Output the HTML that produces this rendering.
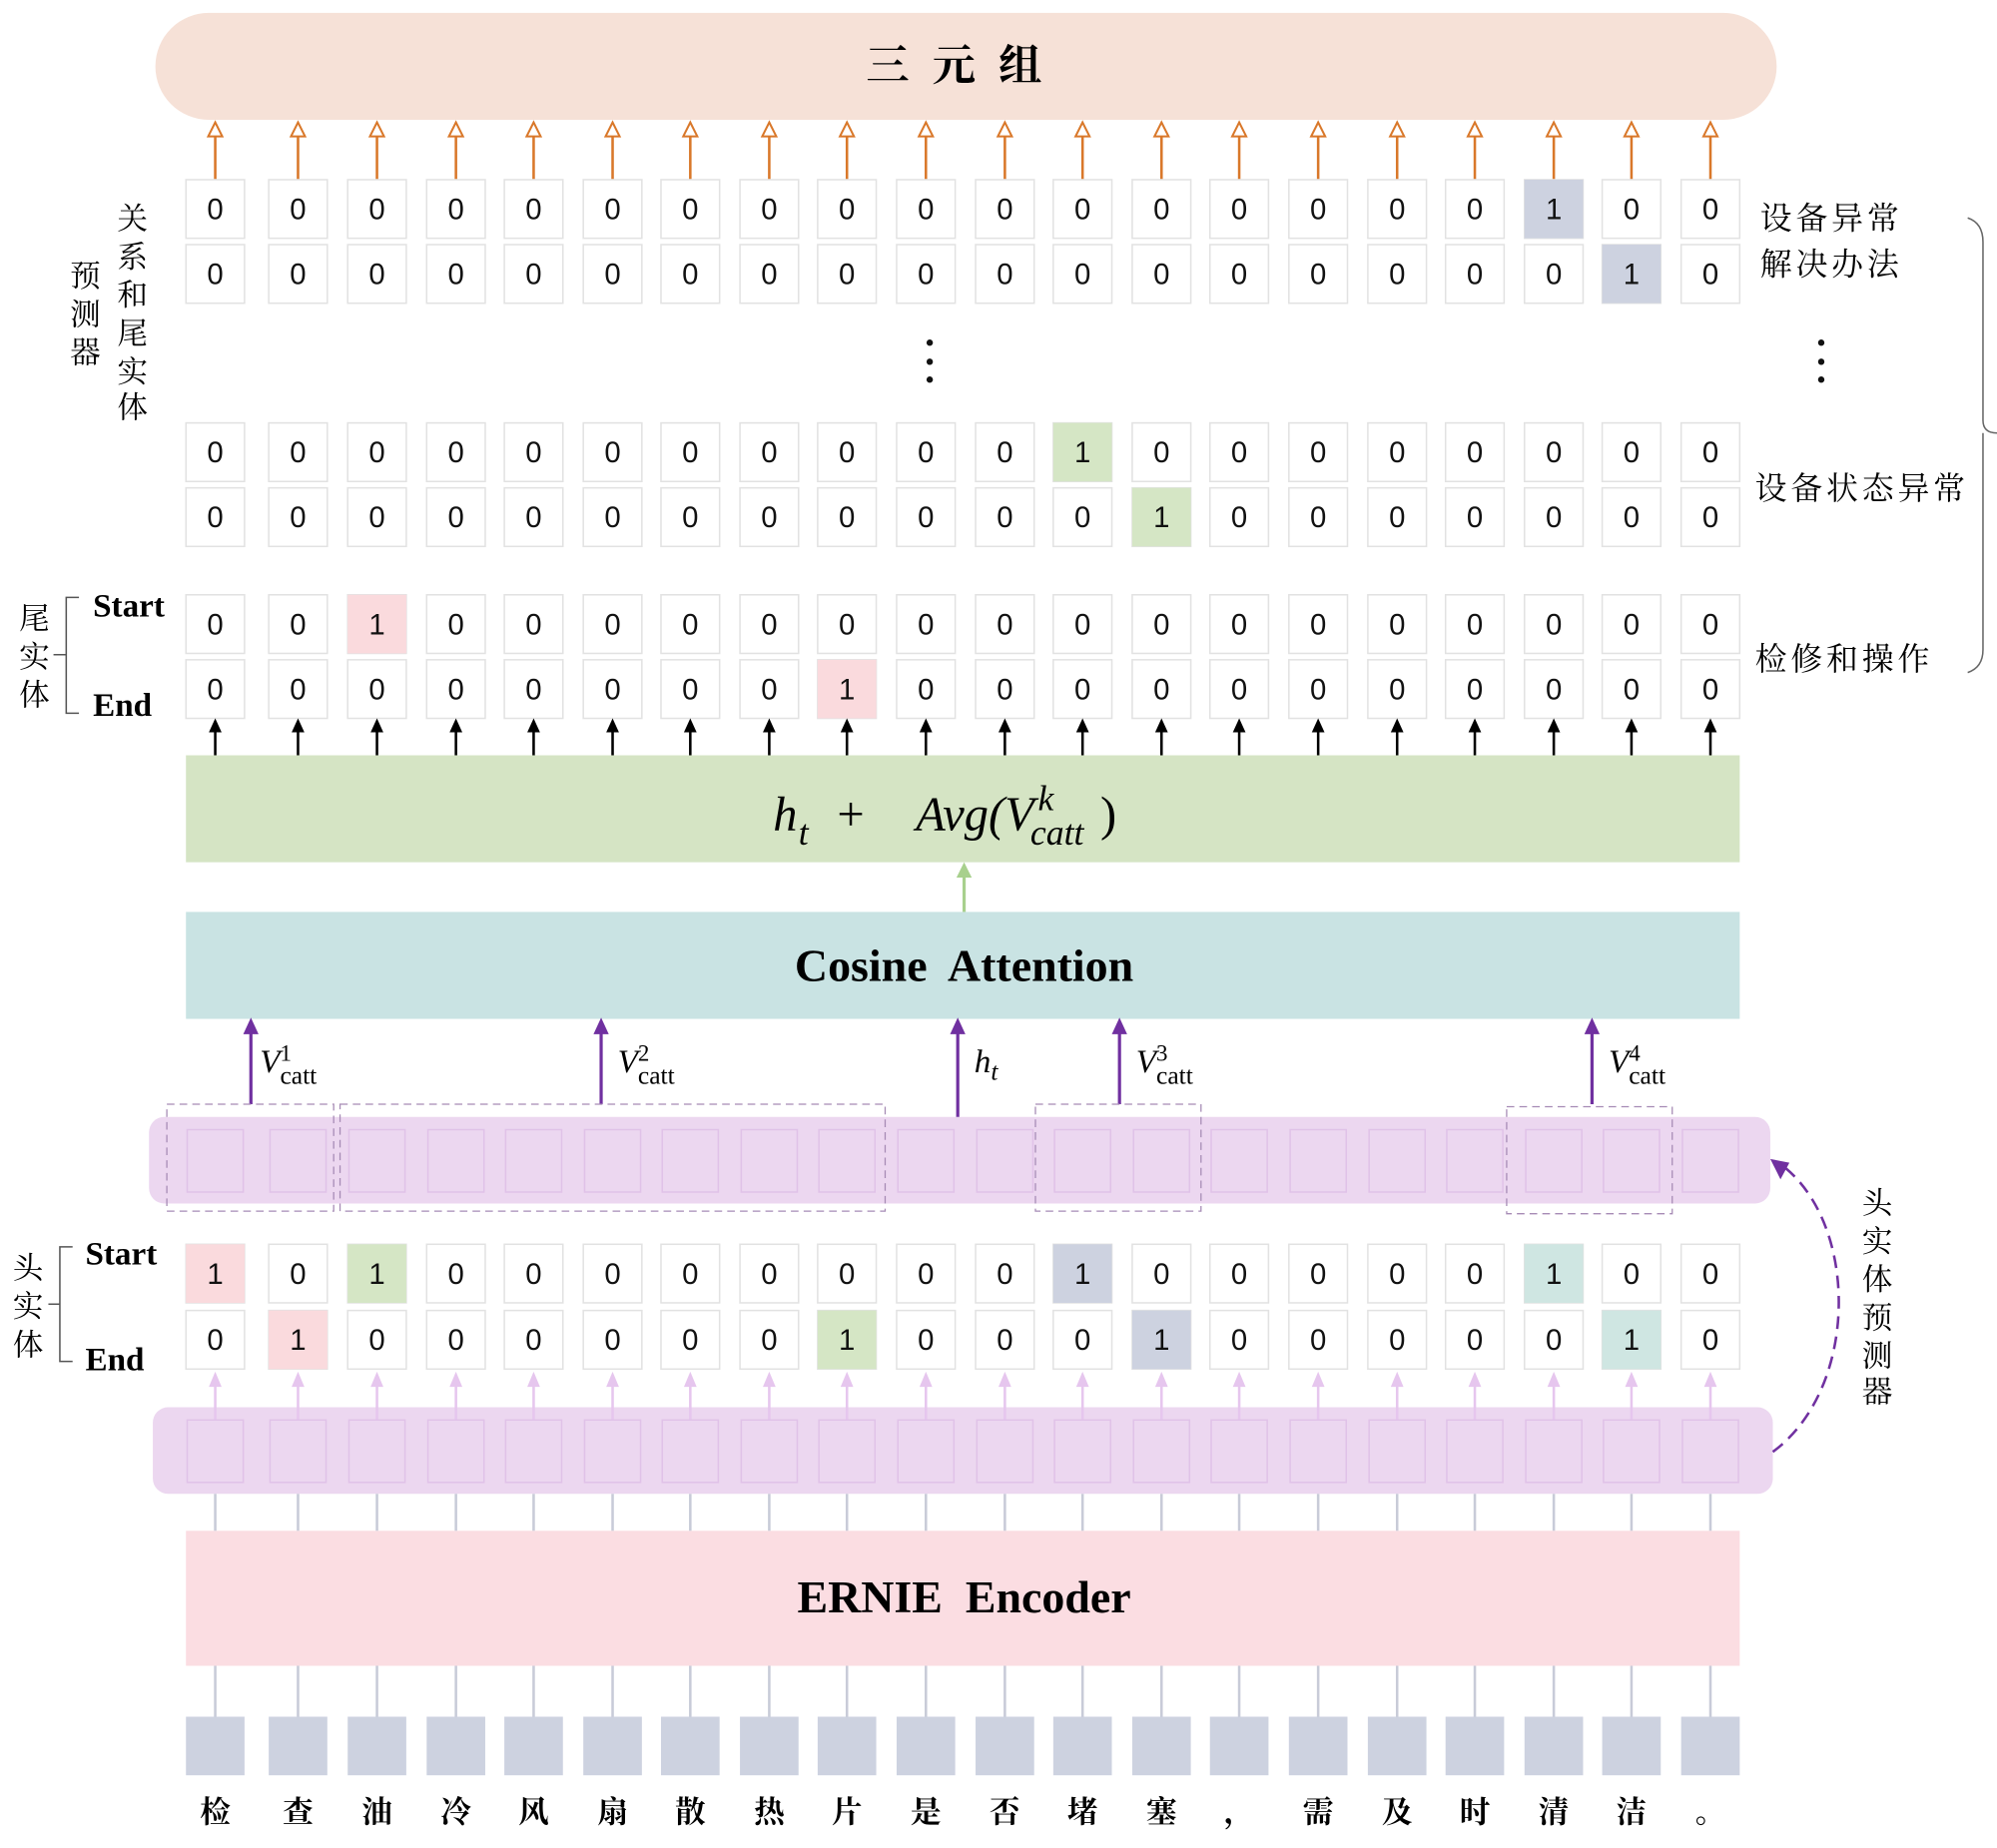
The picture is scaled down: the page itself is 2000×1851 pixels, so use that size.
<!DOCTYPE html>
<html><head><meta charset="utf-8"><style>
html,body{margin:0;padding:0;background:#fff;}
svg{display:block;}
.cjk{font-family:"Liberation Serif","Noto Serif CJK SC",serif;}
.pre{white-space:pre;}
</style></head><body>
<svg width="2000" height="1851" viewBox="0 0 1568 1451" xmlns="http://www.w3.org/2000/svg">
<defs>
<g id="col">
  <line x1="0" y1="141" x2="0" y2="106" stroke="#d9782a" stroke-width="2"/>
  <polygon points="-5.5,107 0,96 5.5,107" fill="#fff" stroke="#d9782a" stroke-width="1.6"/>
  <g fill="#fff" stroke="#e2e2e2" stroke-width="1.2">
    <rect x="-23" y="141" width="46" height="46"/>
    <rect x="-23" y="192" width="46" height="46"/>
    <rect x="-23" y="332" width="46" height="46"/>
    <rect x="-23" y="383" width="46" height="46"/>
    <rect x="-23" y="467" width="46" height="46"/>
    <rect x="-23" y="518" width="46" height="46"/>
    <rect x="-23" y="977" width="46" height="46"/>
    <rect x="-23" y="1029" width="46" height="46"/>
  </g>
  <line x1="0" y1="593" x2="0" y2="572" stroke="#000" stroke-width="2"/>
  <polygon points="-5,575 0,564 5,575" fill="#000"/>
  <rect x="-22" y="887" width="44" height="49" fill="none" stroke="#e0c2e8" stroke-width="1.2"/>
  <line x1="0" y1="1115" x2="0" y2="1088" stroke="#e6c6ee" stroke-width="2"/>
  <polygon points="-5,1089 0,1077 5,1089" fill="#e6c6ee"/>
  <rect x="-22" y="1115" width="44" height="49" fill="none" stroke="#e0c2e8" stroke-width="1.2"/>
  <line x1="0" y1="1173" x2="0" y2="1202" stroke="#c8cbd8" stroke-width="2"/>
  <line x1="0" y1="1308" x2="0" y2="1348" stroke="#c8cbd8" stroke-width="2"/>
  <rect x="-23" y="1348" width="46" height="46" fill="#cdd2e0"/>
</g>
</defs>

<rect x="122" y="10" width="1273" height="84" rx="42" fill="#f6e1d7"/>
<text x="758" y="63" text-anchor="middle" class="cjk" font-size="34" font-weight="bold" letter-spacing="18">三元组</text>

<rect x="146" y="593" width="1220" height="84" fill="#d5e4c4"/>
<rect x="146" y="716" width="1220" height="84" fill="#c9e3e3"/>
<rect x="117" y="877" width="1273" height="68" rx="12" fill="#ecd7f0"/>
<rect x="120" y="1105" width="1272" height="68" rx="12" fill="#ecd7f0"/>
<rect x="146" y="1202" width="1220" height="106" fill="#fbdde2"/>

<use href="#col" x="169"/><use href="#col" x="234"/><use href="#col" x="296"/><use href="#col" x="358"/><use href="#col" x="419"/>
<use href="#col" x="481"/><use href="#col" x="542"/><use href="#col" x="604"/><use href="#col" x="665"/><use href="#col" x="727"/>
<use href="#col" x="789"/><use href="#col" x="850"/><use href="#col" x="912"/><use href="#col" x="973"/><use href="#col" x="1035"/>
<use href="#col" x="1097"/><use href="#col" x="1158"/><use href="#col" x="1220"/><use href="#col" x="1281"/><use href="#col" x="1343"/>

<rect x="1197" y="141" width="46" height="46" fill="#cdd2e0"/>
<rect x="1258" y="192" width="46" height="46" fill="#cdd2e0"/>
<rect x="827" y="332" width="46" height="46" fill="#d5e6c5"/>
<rect x="889" y="383" width="46" height="46" fill="#d5e6c5"/>
<rect x="273" y="467" width="46" height="46" fill="#fadadd"/>
<rect x="642" y="518" width="46" height="46" fill="#fadadd"/>
<rect x="146" y="977" width="46" height="46" fill="#fadadd"/>
<rect x="273" y="977" width="46" height="46" fill="#d5e6c5"/>
<rect x="827" y="977" width="46" height="46" fill="#cdd2e0"/>
<rect x="1197" y="977" width="46" height="46" fill="#cfe6e2"/>
<rect x="211" y="1029" width="46" height="46" fill="#fadadd"/>
<rect x="642" y="1029" width="46" height="46" fill="#d5e6c5"/>
<rect x="889" y="1029" width="46" height="46" fill="#cdd2e0"/>
<rect x="1258" y="1029" width="46" height="46" fill="#cfe6e2"/>

<g font-family="'Liberation Sans',sans-serif" font-size="23" text-anchor="middle" fill="#111">
<text x="169 234 296 358 419 481 542 604 665 727 789 850 912 973 1035 1097 1158 1220 1281 1343" y="172">00000000000000000100</text>
<text x="169 234 296 358 419 481 542 604 665 727 789 850 912 973 1035 1097 1158 1220 1281 1343" y="223">00000000000000000010</text>
<text x="169 234 296 358 419 481 542 604 665 727 789 850 912 973 1035 1097 1158 1220 1281 1343" y="363">00000000000100000000</text>
<text x="169 234 296 358 419 481 542 604 665 727 789 850 912 973 1035 1097 1158 1220 1281 1343" y="414">00000000000010000000</text>
<text x="169 234 296 358 419 481 542 604 665 727 789 850 912 973 1035 1097 1158 1220 1281 1343" y="498">00100000000000000000</text>
<text x="169 234 296 358 419 481 542 604 665 727 789 850 912 973 1035 1097 1158 1220 1281 1343" y="549">00000000100000000000</text>
<text x="169 234 296 358 419 481 542 604 665 727 789 850 912 973 1035 1097 1158 1220 1281 1343" y="1008">10100000000100000100</text>
<text x="169 234 296 358 419 481 542 604 665 727 789 850 912 973 1035 1097 1158 1220 1281 1343" y="1060">01000000100010000010</text>
</g>

<g fill="#111"><circle cx="730" cy="269" r="2.5"/><circle cx="730" cy="284" r="2.5"/><circle cx="730" cy="298" r="2.5"/>
<circle cx="1430" cy="269" r="2.5"/><circle cx="1430" cy="284" r="2.5"/><circle cx="1430" cy="298" r="2.5"/></g>

<!-- formula -->
<g font-family="'Liberation Serif',serif" font-style="italic">
<text x="607" y="652" font-size="38">h</text>
<text x="627" y="663" font-size="28">t</text>
<text x="668" y="652" font-size="38" text-anchor="middle" font-style="normal">+</text>
<text x="812" y="652" font-size="38" text-anchor="end">Avg(V</text>
<text x="815" y="636" font-size="28">k</text>
<text x="809" y="663" font-size="28">catt</text>
<text x="864" y="652" font-size="38" font-style="normal">)</text>
</g>
<line x1="757" y1="716" x2="757" y2="688" stroke="#a8d08d" stroke-width="2.5"/>
<polygon points="751,689 757,677 763,689" fill="#a8d08d"/>

<text x="757" y="770" text-anchor="middle" class="pre" font-family="'Liberation Serif',serif" font-weight="bold" font-size="36">Cosine  Attention</text>

<g stroke="#7030a0" stroke-width="2.5">
<line x1="197" y1="867" x2="197" y2="810"/><line x1="472" y1="867" x2="472" y2="810"/>
<line x1="752" y1="877" x2="752" y2="810"/><line x1="879" y1="867" x2="879" y2="810"/>
<line x1="1250" y1="867" x2="1250" y2="810"/></g>
<g fill="#7030a0"><polygon points="191,812 197,799 203,812"/><polygon points="466,812 472,799 478,812"/>
<polygon points="746,812 752,799 758,812"/><polygon points="873,812 879,799 885,812"/><polygon points="1244,812 1250,799 1256,812"/></g>
<g font-family="'Liberation Serif',serif" font-size="26">
<text x="204" y="842"><tspan font-style="italic">V</tspan><tspan font-size="18" dy="-9">1</tspan><tspan font-size="20" dx="-9" dy="18">catt</tspan></text>
<text x="485" y="842"><tspan font-style="italic">V</tspan><tspan font-size="18" dy="-9">2</tspan><tspan font-size="20" dx="-9" dy="18">catt</tspan></text>
<text x="765" y="842" font-style="italic">h<tspan font-size="20" dy="6">t</tspan></text>
<text x="892" y="842"><tspan font-style="italic">V</tspan><tspan font-size="18" dy="-9">3</tspan><tspan font-size="20" dx="-9" dy="18">catt</tspan></text>
<text x="1263" y="842"><tspan font-style="italic">V</tspan><tspan font-size="18" dy="-9">4</tspan><tspan font-size="20" dx="-9" dy="18">catt</tspan></text>
</g>

<g fill="none" stroke="#a68bb5" stroke-width="1" stroke-dasharray="6,4">
<rect x="131" y="867" width="131" height="84"/><rect x="267" y="867" width="428" height="84"/>
<rect x="813" y="867" width="130" height="84"/><rect x="1183" y="869" width="130" height="84"/></g>

<path d="M1392,1140 C1460,1090 1460,960 1398,914" fill="none" stroke="#7030a0" stroke-width="2" stroke-dasharray="10,6"/>
<polygon points="1390,910 1405,913 1398,926" fill="#7030a0"/>

<text x="757" y="1266" text-anchor="middle" class="pre" font-family="'Liberation Serif',serif" font-weight="bold" font-size="36">ERNIE  Encoder</text>

<text x="169 234 296 358 419 481 542 604 665 727 789 850 912 973 1035 1097 1158 1220 1281 1343" y="1431" text-anchor="middle" class="cjk" font-size="24" font-weight="bold">检查油冷风扇散热片是否堵塞，需及时清洁。</text>

<g class="cjk" font-size="24" text-anchor="middle">
<text x="104" y="180">关</text><text x="104" y="210">系</text><text x="104" y="240">和</text><text x="104" y="270">尾</text><text x="104" y="300">实</text><text x="104" y="328">体</text>
<text x="67" y="225">预</text><text x="67" y="255">测</text><text x="67" y="285">器</text>
<text x="27" y="494">尾</text><text x="27" y="524">实</text><text x="27" y="554">体</text>
<text x="22" y="1004">头</text><text x="22" y="1034">实</text><text x="22" y="1064">体</text>
<text x="1474" y="953">头</text><text x="1474" y="983">实</text><text x="1474" y="1013">体</text><text x="1474" y="1043">预</text><text x="1474" y="1073">测</text><text x="1474" y="1101">器</text>
</g>
<g fill="none" stroke="#555" stroke-width="1.2">
<path d="M62,469 H52 V560 H62 M42,514 H52"/>
<path d="M57,979 H47 V1069 H57 M38,1024 H47"/>
</g>
<g font-family="'Liberation Serif',serif" font-weight="bold" font-size="26">
<text x="73" y="484">Start</text><text x="73" y="562">End</text>
<text x="67" y="993">Start</text><text x="67" y="1076">End</text>
</g>

<g class="cjk" font-size="25" letter-spacing="3">
<text x="1382" y="180">设备异常</text><text x="1382" y="216">解决办法</text>
<text x="1378" y="392">设备状态异常</text><text x="1378" y="526">检修和操作</text>
</g>
<path d="M1545,171 Q1557,175 1557,190 V330 Q1557,340 1568,340 M1557,340 V510 Q1557,524 1545,528" fill="none" stroke="#666" stroke-width="1.2"/>
</svg>
</body></html>
